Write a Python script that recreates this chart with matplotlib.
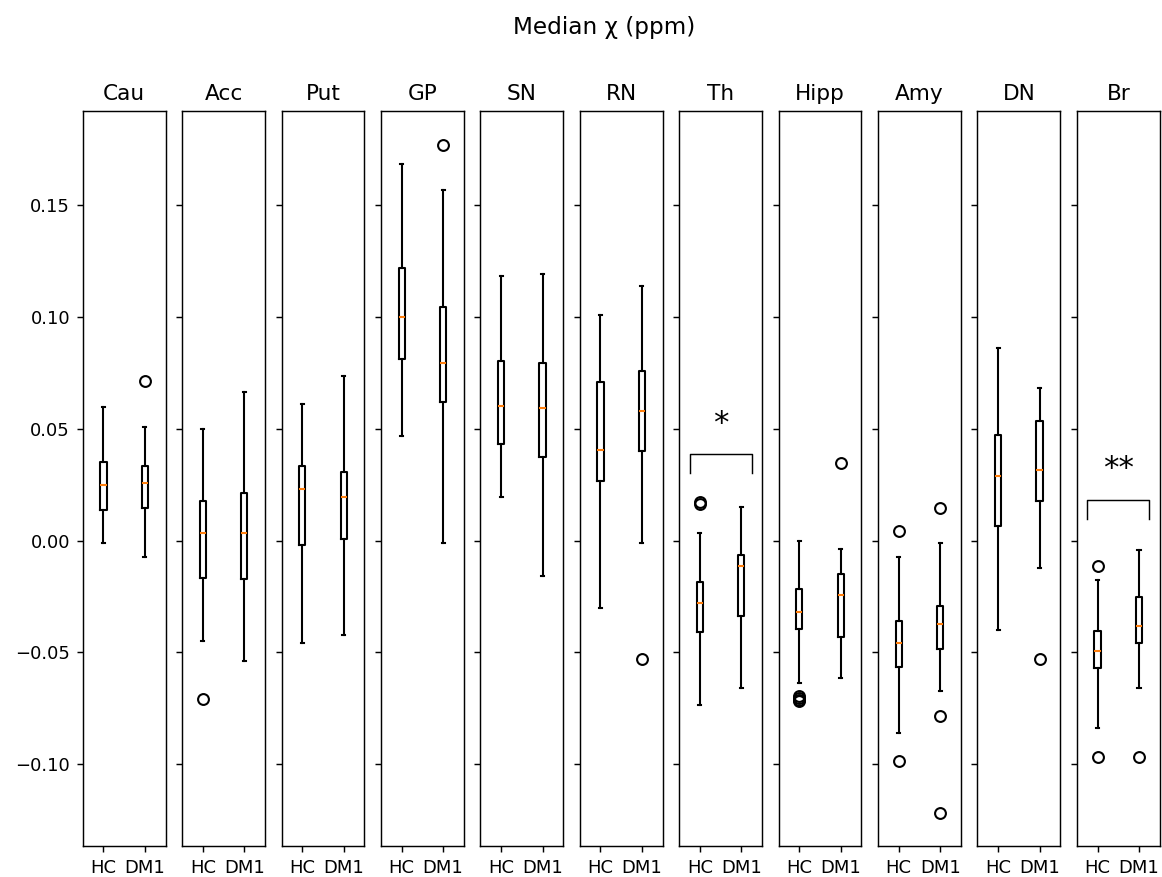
import matplotlib
matplotlib.use("Agg")
import matplotlib.pyplot as plt

regions = ["Cau", "Acc", "Put", "GP", "SN", "RN", "Th", "Hipp", "Amy", "DN", "Br"]
groups = ["HC", "DM1"]

# HC box statistics
hc_whislo = [-0.0009, -0.0451, -0.0460, 0.0466, 0.0197, -0.0303, -0.0737, -0.0639, -0.0859, -0.0400, -0.0838]
hc_q1     = [0.0138, -0.0166, -0.0019, 0.0813, 0.0432, 0.0269, -0.0408, -0.0397, -0.0565, 0.0067, -0.0572]
hc_med    = [0.0250, 0.0033, 0.0232, 0.1003, 0.0604, 0.0405, -0.0278, -0.0321, -0.0460, 0.0291, -0.0495]
hc_q3     = [0.0354, 0.0179, 0.0336, 0.1218, 0.0803, 0.0708, -0.0184, -0.0218, -0.0359, 0.0474, -0.0404]
hc_whishi = [0.0596, 0.0501, 0.0613, 0.1684, 0.1185, 0.1011, 0.0033, 0.0000, -0.0072, 0.0863, -0.0176]
hc_fliers = [[], [-0.0711], [], [], [], [], [0.0165, 0.0171],
             [-0.0695, -0.0705, -0.0713, -0.0720], [0.0043, -0.0986], [], [-0.0113, -0.0968]]

# DM1 box statistics
dm_whislo = [-0.0072, -0.0538, -0.0423, -0.0009, -0.0157, -0.0009, -0.0659, -0.0617, -0.0674, -0.0121, -0.0659]
dm_q1     = [0.0148, -0.0173, 0.0008, 0.0622, 0.0372, 0.0399, -0.0336, -0.0433, -0.0487, 0.0179, -0.0457]
dm_med    = [0.0257, 0.0033, 0.0197, 0.0795, 0.0595, 0.0578, -0.0113, -0.0243, -0.0373, 0.0317, -0.0382]
dm_q3     = [0.0335, 0.0215, 0.0309, 0.1045, 0.0795, 0.0761, -0.0064, -0.0149, -0.0293, 0.0534, -0.0251]
dm_whishi = [0.0508, 0.0665, 0.0735, 0.1567, 0.1194, 0.1141, 0.0152, -0.0037, -0.0012, 0.0683, -0.0042]
dm_fliers = [[0.0716], [], [], [0.1771], [], [-0.0529], [], [0.0347],
             [0.0145, -0.0786, -0.1220], [-0.0529], [-0.0968]]

# significance annotations
sig_regions = ["Th", "Br"]
sig_labels = ["*", "**"]
sig_bracket_top = [0.0387, 0.0182]
sig_bracket_bottom = [0.0302, 0.0096]
sig_text_y = [0.0523, 0.0322]

DPI = 130
fig, axes = plt.subplots(1, len(regions), sharey=True,
                         figsize=(1162 / DPI, 877 / DPI), dpi=DPI)
fig.subplots_adjust(left=0.0712, right=0.998, top=0.874, bottom=0.0353, wspace=0.2)


def stat(lo, q1, med, q3, hi, fl, label):
    return dict(whislo=lo, q1=q1, med=med, q3=q3, whishi=hi, fliers=fl, label=label)


lw = 1.15
for i, (ax, name) in enumerate(zip(axes, regions)):
    stats = [
        stat(hc_whislo[i], hc_q1[i], hc_med[i], hc_q3[i], hc_whishi[i], hc_fliers[i], groups[0]),
        stat(dm_whislo[i], dm_q1[i], dm_med[i], dm_q3[i], dm_whishi[i], dm_fliers[i], groups[1]),
    ]
    ax.bxp(stats, showfliers=True,
           boxprops=dict(linewidth=lw), whiskerprops=dict(linewidth=lw),
           capprops=dict(linewidth=lw), medianprops=dict(linewidth=lw, color="C1"),
           flierprops=dict(markeredgewidth=lw))
    ax.set_title(name)
    if name in sig_regions:
        k = sig_regions.index(name)
        top = sig_bracket_top[k]
        bot = sig_bracket_bottom[k]
        ax.plot([0.75, 0.75, 2.25, 2.25], [bot, top, top, bot], color="black", lw=0.8)
        ax.text(1.5, sig_text_y[k], sig_labels[k], ha="center", va="center", fontsize=17)

axes[0].set_ylim(-0.1367, 0.1925)
axes[0].set_yticks([-0.10, -0.05, 0.00, 0.05, 0.10, 0.15])
fig.suptitle("Median χ (ppm)", x=0.52, y=0.982, fontsize=12.8)

fig.savefig("out.png", dpi=DPI)
